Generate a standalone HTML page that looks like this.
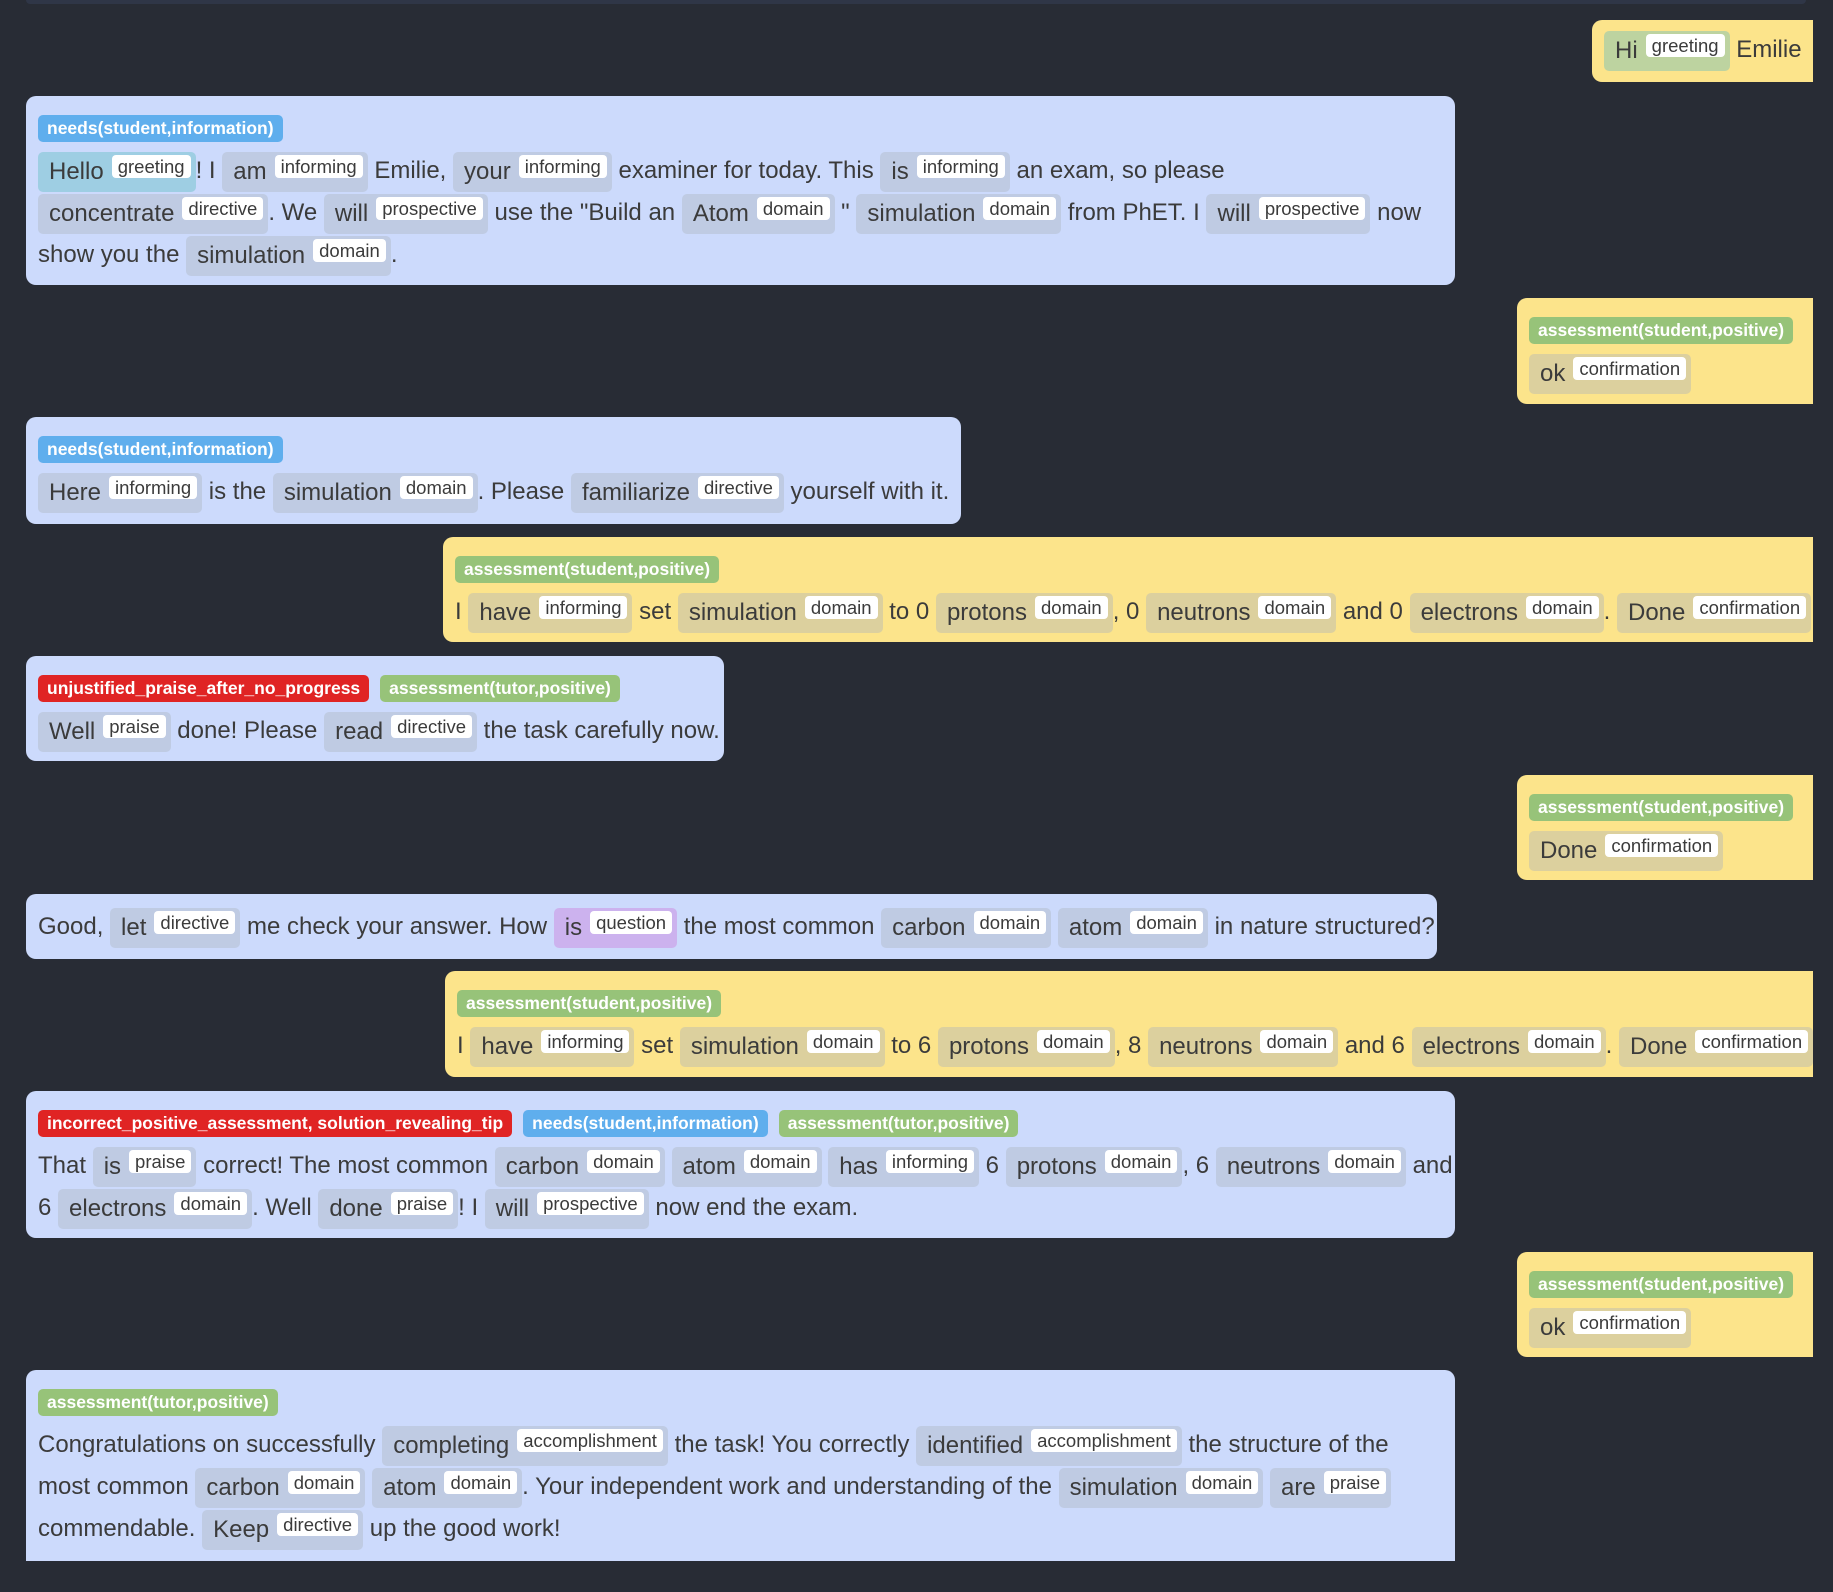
<!DOCTYPE html>
<html><head><meta charset="utf-8"><style>
*{margin:0;padding:0;box-sizing:border-box}
body{width:1833px;height:1592px;background:#282c35;position:relative;overflow:hidden;font-family:"Liberation Sans",sans-serif;color:#3b3b3b}
.top{position:absolute;left:26px;top:0;width:1780px;height:4px;background:#2f3647;border-radius:0 0 6px 6px}
.b{position:absolute;border-radius:10px;padding:12px 12px 0 12px;font-size:24px;white-space:nowrap}
.bl{background:#ccdafc}
.y{background:#fce48b;border-radius:10px 0 0 10px}
.lab{display:inline-block;height:27px;line-height:27px;font-size:17.5px;font-weight:bold;color:#fff;padding:0 9px;border-radius:5px;margin:7px 11px 0 0;vertical-align:top}
.n{background:#5faeed}.g{background:#97c379}.r{background:#e02424}
.labs{height:42px}
.l{height:42px;line-height:42px}
.t{display:inline-block;height:40px;line-height:40px;vertical-align:middle;padding:0 5px 0 11px;border-radius:5px;background:#bfcbe3}
.y .t{background:#dcd09e}
.t i{font-style:normal;display:inline-block;background:#fff;font-size:18.5px;line-height:23px;height:23px;padding:0 6px;border-radius:4px;margin-left:8px;vertical-align:top;position:relative;top:3px}
.gr{background:#9ecee3!important}
.gy{background:#bdd3a0!important}
.q{background:#ccb2ee!important}
</style></head><body>
<div class="top"></div>

<div class="b y" style="left:1592px;top:20px;width:221px;height:62px;padding-top:9px"><div class="l"><span class="t gy">Hi<i>greeting</i></span> Emilie</div></div>

<div class="b bl" style="left:26px;top:96px;width:1429px;height:189px">
<div class="labs"><span class="lab n">needs(student,information)</span></div>
<div class="l"><span class="t gr">Hello<i>greeting</i></span>! I <span class="t">am<i>informing</i></span> Emilie, <span class="t">your<i>informing</i></span> examiner for today. This <span class="t">is<i>informing</i></span> an exam, so please</div>
<div class="l"><span class="t">concentrate<i>directive</i></span>. We <span class="t">will<i>prospective</i></span> use the "Build an <span class="t">Atom<i>domain</i></span> " <span class="t">simulation<i>domain</i></span> from PhET. I <span class="t">will<i>prospective</i></span> now</div>
<div class="l">show you the <span class="t">simulation<i>domain</i></span>.</div>
</div>

<div class="b y" style="left:1517px;top:298px;width:296px;height:106px">
<div class="labs"><span class="lab g">assessment(student,positive)</span></div>
<div class="l"><span class="t">ok<i>confirmation</i></span></div></div>

<div class="b bl" style="left:26px;top:417px;width:935px;height:107px">
<div class="labs"><span class="lab n">needs(student,information)</span></div>
<div class="l"><span class="t">Here<i>informing</i></span> is the <span class="t">simulation<i>domain</i></span>. Please <span class="t">familiarize<i>directive</i></span> yourself with it.</div></div>

<div class="b y" style="left:443px;top:537px;width:1370px;height:105px">
<div class="labs"><span class="lab g">assessment(student,positive)</span></div>
<div class="l">I <span class="t">have<i>informing</i></span> set <span class="t">simulation<i>domain</i></span> to 0 <span class="t">protons<i>domain</i></span>, 0 <span class="t">neutrons<i>domain</i></span> and 0 <span class="t">electrons<i>domain</i></span>. <span class="t">Done<i>confirmation</i></span></div></div>

<div class="b bl" style="left:26px;top:656px;width:698px;height:105px">
<div class="labs"><span class="lab r">unjustified_praise_after_no_progress</span><span class="lab g">assessment(tutor,positive)</span></div>
<div class="l"><span class="t">Well<i>praise</i></span> done! Please <span class="t">read<i>directive</i></span> the task carefully now.</div></div>

<div class="b y" style="left:1517px;top:775px;width:296px;height:105px">
<div class="labs"><span class="lab g">assessment(student,positive)</span></div>
<div class="l"><span class="t">Done<i>confirmation</i></span></div></div>

<div class="b bl" style="left:26px;top:894px;width:1411px;height:65px">
<div class="l">Good, <span class="t">let<i>directive</i></span> me check your answer. How <span class="t q">is<i>question</i></span> the most common <span class="t">carbon<i>domain</i></span> <span class="t">atom<i>domain</i></span> in nature structured?</div></div>

<div class="b y" style="left:445px;top:971px;width:1368px;height:106px">
<div class="labs"><span class="lab g">assessment(student,positive)</span></div>
<div class="l">I <span class="t">have<i>informing</i></span> set <span class="t">simulation<i>domain</i></span> to 6 <span class="t">protons<i>domain</i></span>, 8 <span class="t">neutrons<i>domain</i></span> and 6 <span class="t">electrons<i>domain</i></span>. <span class="t">Done<i>confirmation</i></span></div></div>

<div class="b bl" style="left:26px;top:1091px;width:1429px;height:147px">
<div class="labs"><span class="lab r">incorrect_positive_assessment, solution_revealing_tip</span><span class="lab n">needs(student,information)</span><span class="lab g">assessment(tutor,positive)</span></div>
<div class="l">That <span class="t">is<i>praise</i></span> correct! The most common <span class="t">carbon<i>domain</i></span> <span class="t">atom<i>domain</i></span> <span class="t">has<i>informing</i></span> 6 <span class="t">protons<i>domain</i></span>, 6 <span class="t">neutrons<i>domain</i></span> and</div>
<div class="l">6 <span class="t">electrons<i>domain</i></span>. Well <span class="t">done<i>praise</i></span>! I <span class="t">will<i>prospective</i></span> now end the exam.</div></div>

<div class="b y" style="left:1517px;top:1252px;width:296px;height:105px">
<div class="labs"><span class="lab g">assessment(student,positive)</span></div>
<div class="l"><span class="t">ok<i>confirmation</i></span></div></div>

<div class="b bl" style="left:26px;top:1370px;width:1429px;height:191px;border-radius:10px 10px 0 0">
<div class="labs"><span class="lab g">assessment(tutor,positive)</span></div>
<div class="l">Congratulations on successfully <span class="t">completing<i>accomplishment</i></span> the task! You correctly <span class="t">identified<i>accomplishment</i></span> the structure of the</div>
<div class="l">most common <span class="t">carbon<i>domain</i></span> <span class="t">atom<i>domain</i></span>. Your independent work and understanding of the <span class="t">simulation<i>domain</i></span> <span class="t">are<i>praise</i></span></div>
<div class="l">commendable. <span class="t">Keep<i>directive</i></span> up the good work!</div></div>
</body></html>
